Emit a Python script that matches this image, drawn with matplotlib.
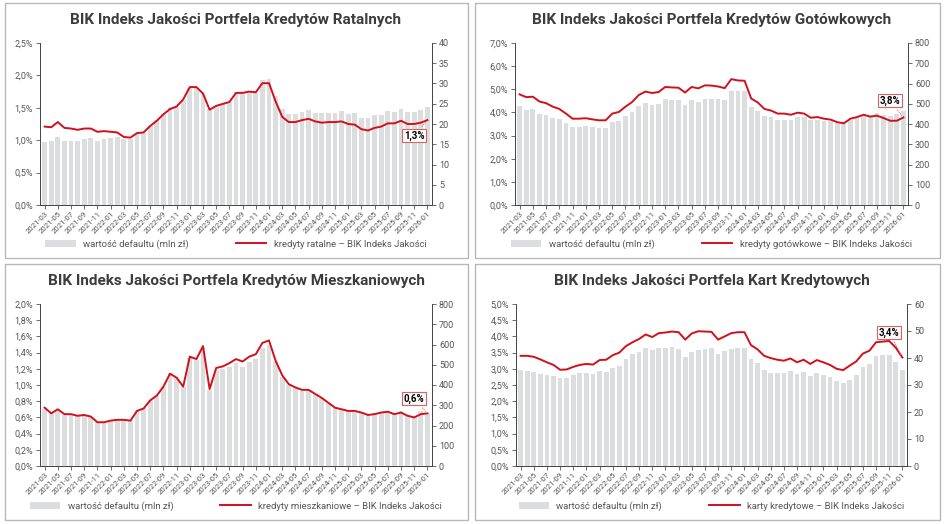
import matplotlib
matplotlib.use("Agg")
import matplotlib.pyplot as plt
from matplotlib.patches import Rectangle
from matplotlib.ticker import FuncFormatter

plt.rcParams["font.family"] = ["Roboto", "DejaVu Sans"]

INK = "#3c3c3c"
MUTED = "#555555"
BAR = "#dcdddf"
RED = "#d2101c"

months = []
for y in range(2021, 2027):
    for m in range(1, 13):
        if (y == 2021 and m < 3) or (y == 2026 and m > 1):
            continue
        months.append(f"{y}-{m:02d}")

# --- data -------------------------------------------------------------------
rat_line = [1.21, 1.20, 1.28, 1.19, 1.18, 1.16, 1.18, 1.18, 1.13, 1.14,
            1.13, 1.12, 1.05, 1.04, 1.11, 1.12, 1.22, 1.30, 1.40, 1.48, 1.52, 1.63,
            1.82, 1.82, 1.72, 1.47, 1.53, 1.56, 1.59, 1.73, 1.73, 1.75, 1.74, 1.88,
            1.88, 1.60, 1.36, 1.28, 1.28, 1.31, 1.33, 1.29, 1.27, 1.28, 1.28, 1.29,
            1.25, 1.24, 1.17, 1.15, 1.19, 1.21, 1.26, 1.26, 1.30, 1.25, 1.25, 1.27,
            1.31]
rat_bars = [15.6, 15.7, 16.8, 15.8, 15.8, 15.8, 16.3, 16.5, 15.9, 16.4,
            16.5, 16.7, 16.2, 16.3, 17.5, 17.8, 19.5, 21.0, 22.5, 24.2, 24.3, 26.0,
            29.0, 29.0, 27.5, 23.8, 24.5, 25.0, 25.5, 27.8, 27.7, 28.0, 27.7, 30.8,
            31.0, 27.0, 23.8, 22.4, 22.4, 23.0, 23.4, 22.8, 22.6, 22.8, 22.8, 23.1,
            22.5, 22.6, 21.6, 21.4, 22.1, 22.3, 23.2, 23.0, 23.8, 22.9, 22.9, 23.4,
            24.2]

got_line = [4.78, 4.66, 4.68, 4.47, 4.40, 4.25, 4.15, 3.95, 3.73, 3.73,
            3.75, 3.70, 3.66, 3.66, 3.95, 4.02, 4.25, 4.45, 4.75, 4.90, 4.84, 4.88,
            5.10, 5.08, 5.07, 4.86, 5.10, 5.04, 5.17, 5.16, 5.12, 5.05, 5.44, 5.38,
            5.37, 4.60, 4.43, 4.15, 4.08, 3.95, 3.95, 3.90, 3.99, 3.95, 3.77, 3.80,
            3.73, 3.69, 3.58, 3.53, 3.73, 3.80, 3.90, 3.82, 3.86, 3.76, 3.64, 3.64,
            3.78]
got_bars = [490, 470, 475, 450, 445, 430, 425, 405, 385, 385,
            390, 385, 380, 380, 410, 415, 440, 460, 490, 505, 495, 500,
            525, 520, 520, 495, 520, 510, 525, 525, 525, 520, 565, 565,
            565, 485, 465, 440, 435, 420, 420, 420, 435, 435, 420, 420,
            415, 415, 405, 400, 420, 430, 440, 440, 455, 445, 440, 450,
            465]

mie_line = [0.72, 0.65, 0.70, 0.64, 0.64, 0.62, 0.63, 0.61, 0.54, 0.54,
            0.56, 0.57, 0.57, 0.56, 0.68, 0.71, 0.81, 0.87, 0.98, 1.14, 1.09, 0.98,
            1.35, 1.32, 1.48, 0.95, 1.21, 1.23, 1.27, 1.32, 1.29, 1.35, 1.38, 1.52,
            1.55, 1.30, 1.12, 1.01, 0.97, 0.94, 0.94, 0.89, 0.84, 0.78, 0.72, 0.70,
            0.68, 0.68, 0.66, 0.63, 0.64, 0.66, 0.67, 0.64, 0.66, 0.62, 0.60, 0.64,
            0.65]
mie_bars = [280, 260, 270, 250, 255, 245, 245, 240, 215, 215,
            225, 225, 225, 225, 275, 285, 325, 345, 390, 460, 440, 390,
            535, 525, 585, 375, 475, 480, 490, 510, 490, 515, 530, 585,
            600, 520, 440, 400, 385, 370, 375, 355, 335, 310, 290, 280,
            270, 270, 265, 255, 260, 265, 270, 260, 270, 250, 240, 270,
            260]

kar_line = [3.40, 3.40, 3.37, 3.29, 3.20, 3.12, 2.97, 2.98, 3.06, 3.12,
            3.15, 3.13, 3.27, 3.28, 3.42, 3.50, 3.70, 3.82, 3.92, 4.06, 3.98, 4.10,
            4.12, 4.15, 4.13, 3.90, 4.09, 4.16, 4.15, 4.14, 3.90, 4.00, 4.10, 4.13,
            4.13, 3.73, 3.60, 3.40, 3.33, 3.28, 3.25, 3.32, 3.20, 3.28, 3.15, 3.27,
            3.20, 3.12, 3.00, 2.96, 3.10, 3.23, 3.47, 3.56, 3.82, 3.84, 3.86, 3.65,
            3.35]
kar_bars = [35.5, 35.2, 34.8, 34.0, 33.7, 33.5, 32.5, 32.7, 33.7, 34.3,
            34.5, 34.0, 35.2, 34.8, 36.3, 37.0, 39.7, 41.5, 42.3, 43.8, 42.8, 43.8,
            43.8, 44.0, 43.3, 40.5, 42.2, 43.0, 43.3, 43.7, 41.5, 42.5, 43.3, 43.7,
            43.7, 39.5, 38.0, 35.5, 34.6, 34.5, 34.3, 35.2, 34.2, 35.0, 33.3, 34.5,
            33.8, 33.0, 31.5, 30.7, 32.0, 33.6, 36.5, 37.8, 40.7, 41.0, 41.2, 38.5,
            35.7]

PANELS = [
    dict(title="BIK Indeks Jakości Portfela Kredytów Ratalnych", line=rat_line, bars=rat_bars,
         label="kredyty ratalne – BIK Indeks Jakości", ymax=2.5, ystep=0.5, rmax=40, rstep=5,
         note="1,3%", note_y=1.07, pos=(0, 0)),
    dict(title="BIK Indeks Jakości Portfela Kredytów Gotówkowych", line=got_line, bars=got_bars,
         label="kredyty gotówkowe – BIK Indeks Jakości", ymax=7.0, ystep=1.0, rmax=800, rstep=100,
         note="3,8%", note_y=4.5, pos=(1, 0)),
    dict(title="BIK Indeks Jakości Portfela Kredytów Mieszkaniowych", line=mie_line, bars=mie_bars,
         label="kredyty mieszkaniowe – BIK Indeks Jakości", ymax=2.0, ystep=0.2, rmax=800, rstep=100,
         note="0,6%", note_y=0.83, pos=(0, 1)),
    dict(title="BIK Indeks Jakości Portfela Kart Kredytowych", line=kar_line, bars=kar_bars,
         label="karty kredytowe – BIK Indeks Jakości", ymax=5.0, ystep=0.5, rmax=60, rstep=10,
         note="3,4%", note_y=4.12, pos=(1, 1)),
]

fig = plt.figure(figsize=(9.48, 5.24), dpi=100)
W, H = 948, 524
BOXES = {(0, 0): (5, 3, 463, 255), (1, 0): (475, 3, 465, 255),
         (0, 1): (5, 264, 463, 256), (1, 1): (475, 264, 465, 256)}
AXES = {(0, 0): (40, 43, 392, 162), (1, 0): (515, 43, 393, 162),
        (0, 1): (40, 304, 392, 162), (1, 1): (516, 304, 391, 162)}


def pct(v, _):
    return f"{v:.1f}%".replace(".", ",")


x = list(range(len(months)))
for p in PANELS:
    bx, by, bw, bh = BOXES[p["pos"]]
    fig.patches.append(Rectangle((bx / W, 1 - (by + bh) / H), bw / W, bh / H,
                                 transform=fig.transFigure, fill=False,
                                 edgecolor="#b8b8b8", linewidth=1.0))
    ax_x, ax_y, ax_w, ax_h = AXES[p["pos"]]
    ax = fig.add_axes([ax_x / W, 1 - (ax_y + ax_h) / H, ax_w / W, ax_h / H])
    axr = ax.twinx()
    bars = axr.bar(x, p["bars"], width=0.72, color=BAR, label="wartość defaultu (mln zł)")
    axr.set_ylim(0, p["rmax"])
    axr.set_yticks(range(0, p["rmax"] + 1, p["rstep"]))
    ax.set_zorder(axr.get_zorder() + 1)
    ax.patch.set_visible(False)
    line, = ax.plot(x, p["line"], color=RED, linewidth=1.4, label=p["label"])
    ax.set_ylim(0, p["ymax"])
    n = int(round(p["ymax"] / p["ystep"]))
    ax.set_yticks([i * p["ystep"] for i in range(n + 1)])
    ax.yaxis.set_major_formatter(FuncFormatter(pct))
    ax.set_xlim(-0.7, len(x) - 0.3)
    ax.set_xticks(x[::2])
    ax.set_xticklabels(months[::2], rotation=45, ha="right", rotation_mode="anchor")
    for a in (ax, axr):
        a.tick_params(colors=MUTED, labelsize=6.5, length=3, width=0.6, pad=2)
        a.spines["top"].set_visible(False)
        for s in ("left", "right", "bottom"):
            a.spines[s].set_color("#444444")
            a.spines[s].set_linewidth(0.6)
    ax.tick_params(axis="x", labelsize=5.6, pad=1)
    ax.set_title(p["title"], color=INK, fontsize=11, fontweight="bold", pad=14)
    ax.annotate(p["note"], xy=(x[-1], p["line"][-1]), xytext=(x[-1] - 2, p["note_y"]),
                ha="center", va="center", fontsize=7, fontweight="bold", color="black",
                bbox=dict(boxstyle="square,pad=0.15", fc="white", ec="#e06060", lw=0.8),
                arrowprops=dict(arrowstyle="-", color="#e06060", lw=0.6, linestyle=":"))
    fig.legend([bars, line], ["wartość defaultu (mln zł)", p["label"]],
               loc="center", bbox_to_anchor=((ax_x + ax_w / 2) / W, 1 - (by + bh - 14) / H),
               ncol=2, frameon=False, fontsize=6.8, labelcolor=MUTED,
               handlelength=3.2, columnspacing=5)

fig.savefig("out.png", dpi=100, facecolor="white")
